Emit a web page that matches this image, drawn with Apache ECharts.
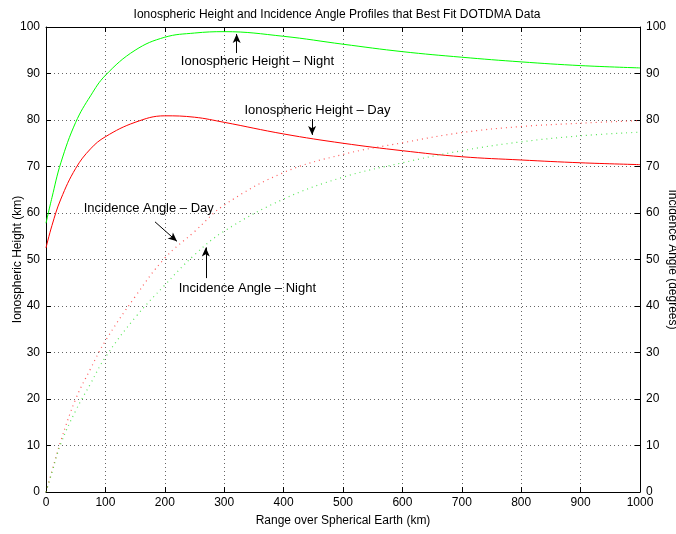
<!DOCTYPE html>
<html>
<head>
<meta charset="utf-8">
<script src="https://cdn.jsdelivr.net/npm/echarts@6/dist/echarts.min.js"></script>
<style>
  html, body { margin: 0; padding: 0; background: #fff; }
  #chart { width: 676px; height: 534px; }
</style>
</head>
<body>
<div id="chart"></div>
<script>
	// range over spherical earth (km), sample points
	var rangeKm = [0, 10, 25, 50, 75, 100, 150, 200, 250, 300, 400, 500, 600, 700, 800, 900, 1000];

	// ionospheric height (km)
	var heightDay = [52.5, 57.3, 63, 69.6, 73.8, 76.4, 79.5, 80.9, 80.6, 79.5, 77, 75, 73.4, 72.1, 71.4, 70.8, 70.4];
	var heightNight = [57.8, 63.3, 70.8, 79.5, 85.2, 89.6, 95, 97.8, 98.7, 99, 98, 96.3, 94.7, 93.5, 92.5, 91.7, 91.2];

	// incidence angle (degrees)
	var angleDay = [0, 4.5, 11, 20, 26.5, 32.5, 42, 50.3, 56, 61.7, 68.7, 72.6, 75.1, 77.3, 78.6, 79.3, 79.9];
	var angleNight = [0, 4.2, 10.4, 17.5, 23.3, 29, 37.5, 44.5, 51, 56.1, 63, 67.7, 70.8, 73.4, 75.3, 76.6, 77.4];

	// annotation texts and where they sit (data coordinates)
	var noteTexts = ["Ionospheric Height \u2013 Night", "Ionospheric Height \u2013 Day",
			"Incidence Angle \u2013 Day", "Incidence Angle \u2013 Night"];
	var notePos = [[356, 92.7], [457, 82], [173, 61], [339, 43.7]];
	// arrows: [fromX, fromY, toX, toY]
	var arrows = [[321, 94.4, 321, 98.5], [448, 80.2, 448, 76.8], [183.5, 58.1, 220.5, 53.9],
			[269, 46, 269, 52.6]];

	var fontFamily = "'Liberation Sans', Arial, Helvetica, sans-serif";

	function zip(xs, ys) {
		var out = [];
		for (var i = 0; i < xs.length; i++) {
			out.push([xs[i], ys[i]]);
		}
		return out;
	}

	var markPoints = [];
	for (var i = 0; i < noteTexts.length; i++) {
		markPoints.push({
			coord : notePos[i],
			value : noteTexts[i]
		});
	}

	var markLines = [];
	for (var j = 0; j < arrows.length; j++) {
		var a = arrows[j];
		markLines.push([ {
			coord : [ a[0], a[1] ]
		}, {
			coord : [ a[2], a[3] ]
		} ]);
	}

	var labelStyle = {
		color : "#000",
		fontFamily : fontFamily,
		fontSize : 12
	};

	function valueAxis(position, showSplit, showLabel, name, nameRotate, nameGap) {
		var horizontal = position === "top" || position === "bottom";
		return {
			type : "value",
			position : position,
			min : 0,
			max : horizontal ? 1000 : 100,
			interval : horizontal ? 100 : 10,
			name : name,
			nameLocation : "middle",
			nameRotate : nameRotate,
			nameGap : nameGap,
			nameMoveOverlap : false,
			nameTextStyle : labelStyle,
			axisLine : {
				show : true,
				onZero : false,
				lineStyle : {
					color : "#000",
					width : 1
				}
			},
			axisTick : {
				show : true,
				inside : true,
				length : 5,
				lineStyle : {
					color : "#000"
				}
			},
			axisLabel : {
				show : showLabel,
				color : "#000",
				fontFamily : fontFamily,
				fontSize : 12,
				margin : horizontal ? 5 : 6,
				formatter : function(v) {
					return String(v);
				}
			},
			splitLine : {
				show : showSplit,
				lineStyle : {
					color : "#666",
					type : [ 1, 3 ],
					width : 1
				}
			}
		};
	}

	var chart = echarts.init(document.getElementById("chart"));
	chart.setOption({
		animation : false,
		backgroundColor : "#fff",
		title : {
			text : "Ionospheric Height and Incidence Angle Profiles that Best Fit DOTDMA Data",
			left : 332,
			textAlign : "center",
			top : 4,
			textStyle : {
				color : "#000",
				fontFamily : fontFamily,
				fontSize : 12,
				fontWeight : "normal"
			}
		},
		grid : {
			left : 46,
			right : 36,
			top : 27,
			bottom : 42,
			containLabel : false,
			outerBoundsMode : "none"
		},
		xAxis : [ valueAxis("bottom", true, true, "Range over Spherical Earth (km)", 0, 23),
				valueAxis("top", false, false, "", 0, 0) ],
		yAxis : [ valueAxis("left", true, true, "Ionospheric Height (km)", 90, 22),
				valueAxis("right", false, true, "Incidence Angle (degrees)", -90, 26) ],
		series : [ {
			name : "Ionospheric Height - Night",
			type : "line",
			data : zip(rangeKm, heightNight),
			smooth : 0.4,
			showSymbol : false,
			lineStyle : {
				color : "#00ff00",
				width : 1
			}
		}, {
			name : "Ionospheric Height - Day",
			type : "line",
			data : zip(rangeKm, heightDay),
			smooth : 0.4,
			showSymbol : false,
			lineStyle : {
				color : "#ff0000",
				width : 1
			},
			markPoint : {
				symbol : "circle",
				symbolSize : 0,
				silent : true,
				label : {
					show : true,
					position : "inside",
					formatter : "{c}",
					color : "#000",
					fontFamily : fontFamily,
					fontSize : 13
				},
				data : markPoints
			},
			markLine : {
				silent : true,
				symbol : [ "none", "arrow" ],
				symbolSize : [ 6, 9 ],
				label : {
					show : false
				},
				lineStyle : {
					color : "#000",
					width : 1,
					type : "solid"
				},
				data : markLines
			}
		}, {
			name : "Incidence Angle - Day",
			type : "line",
			yAxisIndex : 1,
			data : zip(rangeKm, angleDay),
			smooth : 0.4,
			showSymbol : false,
			lineStyle : {
				color : "#ff3030",
				width : 1.2,
				type : [ 1, 4 ],
				opacity : 0.8
			}
		}, {
			name : "Incidence Angle - Night",
			type : "line",
			yAxisIndex : 1,
			data : zip(rangeKm, angleNight),
			smooth : 0.4,
			showSymbol : false,
			lineStyle : {
				color : "#30e030",
				width : 1.2,
				type : [ 1, 4 ],
				opacity : 0.8
			}
		} ]
	});
</script>
</body>
</html>
